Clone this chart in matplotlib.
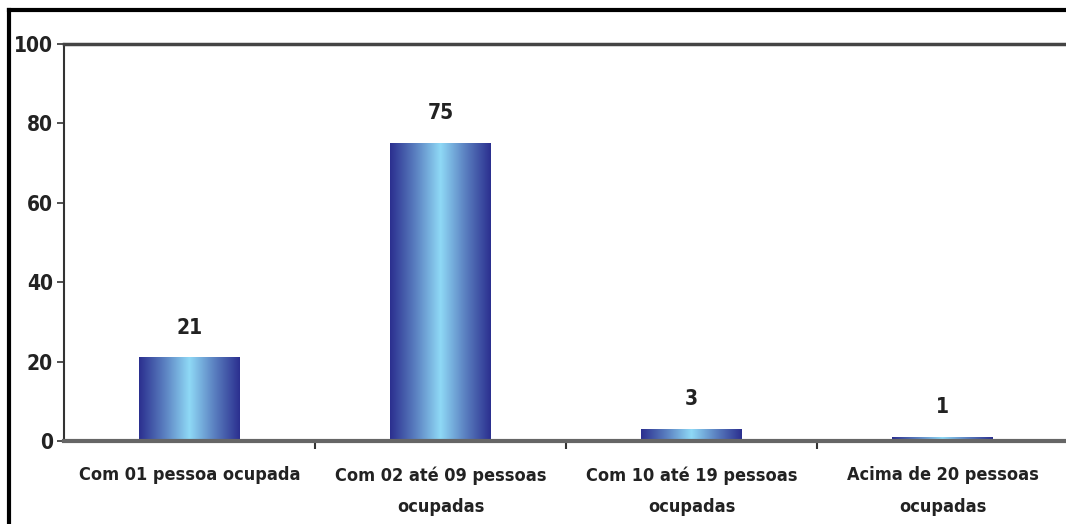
import numpy as np
import matplotlib
matplotlib.use('Agg')
import matplotlib.pyplot as plt
from matplotlib.colors import LinearSegmentedColormap
from matplotlib.lines import Line2D

# data
categorias = ['Com 01 pessoa ocupada', 'Com 02 até 09 pessoas\nocupadas',
              'Com 10 até 19 pessoas\nocupadas', 'Acima de 20 pessoas\nocupadas']
valores = [21, 75, 3, 1]
yticks = [0, 20, 40, 60, 80, 100]

plt.rcParams['font.family'] = ['DejaVu Sans']
plt.rcParams['font.stretch'] = 'condensed'

fig = plt.figure(figsize=(10.66, 5.24), dpi=100)
ax = fig.add_axes([0.060, 0.158, 0.942, 0.758])

cmap = LinearSegmentedColormap.from_list('barra', ['#2b2f8f', '#5a7fc0', '#8fd9f6', '#5a7fc0', '#2b2f8f'])
grad = np.linspace(0, 1, 256).reshape(1, -1)

x = np.arange(len(valores))
largura = 0.4
bars = ax.bar(x, valores, width=largura, color='none', edgecolor='none')
for b, v in zip(bars, valores):
    x0 = b.get_x()
    ax.imshow(grad, cmap=cmap, aspect='auto', extent=[x0, x0 + largura, 0, v],
              zorder=2, interpolation='bilinear')
    ax.text(b.get_x() + largura / 2, v + 5, str(v), ha='center', va='bottom',
            fontsize=15, fontweight='bold', fontstretch='condensed', color='#222222')

ax.set_xlim(-0.5, len(valores) - 0.5)
ax.set_ylim(0, 100)
ax.set_yticks(yticks)
ax.set_yticklabels([str(t) for t in yticks], fontsize=15, fontweight='bold',
                   fontstretch='condensed', color='#222222')
ax.set_xticks(x)
ax.set_xticklabels(categorias, fontsize=13, fontweight='bold', fontstretch='condensed',
                   color='#222222', linespacing=1.95)
ax.tick_params(axis='x', length=0, pad=18)
ax.set_xticks(np.arange(len(valores) - 1) + 0.5, minor=True)
ax.tick_params(axis='x', which='minor', length=6, width=1.5, color='#333333', direction='out')
ax.tick_params(axis='y', length=5, width=1.2, color='#333333', pad=3)

ax.spines['right'].set_visible(False)
ax.spines['left'].set_color('#333333')
ax.spines['left'].set_linewidth(1.5)
ax.spines['top'].set_color('#444444')
ax.spines['top'].set_linewidth(2.5)
ax.spines['bottom'].set_color('#666666')
ax.spines['bottom'].set_linewidth(3)
ax.set_zorder(1)

# moldura da figura (esquerda e topo)
fig.add_artist(Line2D([0.008, 0.008], [0, 0.981], transform=fig.transFigure, color='black', lw=3))
fig.add_artist(Line2D([0.008, 1.0], [0.981, 0.981], transform=fig.transFigure, color='black', lw=3))

fig.savefig('out.png', dpi=100)
